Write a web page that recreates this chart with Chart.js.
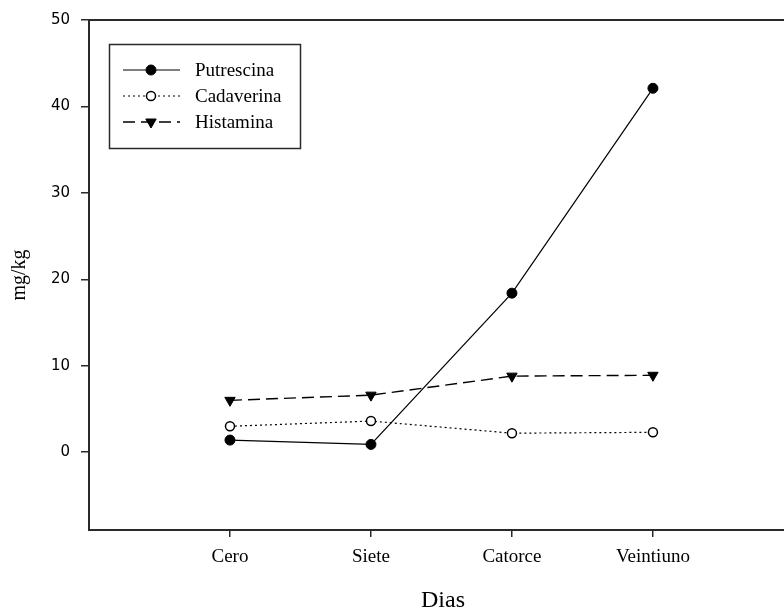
<!DOCTYPE html>
<html>
<head>
<meta charset="utf-8">
<script src="https://cdn.jsdelivr.net/npm/chart.js@4/dist/chart.umd.min.js"></script>
<style>
  html, body { margin: 0; padding: 0; background: #fff; }
  #wrap { width: 784px; height: 615px; }
</style>
</head>
<body>
<div id="wrap"><canvas id="c" width="784" height="615"></canvas></div>
<script>
// Sampling days and amine contents (mg/kg)
const categories = ['Cero', 'Siete', 'Catorce', 'Veintiuno'];
const putrescina = [1.4, 0.9, 18.4, 42.1];
const cadaverina = [3.0, 3.6, 2.2, 2.3];
const histamina  = [6.0, 6.6, 8.8, 8.9];
const yTicks = [0, 10, 20, 30, 40, 50];
const seriesNames = ['Putrescina', 'Cadaverina', 'Histamina'];

const toPoints = arr => arr.map((v, i) => ({ x: i, y: v }));

const INK = '#000';
const AXIS = '#2a2a2a';

const datasets = [
  {
    label: seriesNames[0],
    data: toPoints(putrescina),
    borderColor: INK, borderWidth: 1.2,
    pointStyle: 'circle', pointRadius: 5,
    pointBackgroundColor: INK, pointBorderColor: INK, pointBorderWidth: 1
  },
  {
    label: seriesNames[1],
    data: toPoints(cadaverina),
    borderColor: INK, borderWidth: 1.2, borderDash: [2, 3],
    pointStyle: 'circle', pointRadius: 4.5,
    pointBackgroundColor: '#fff', pointBorderColor: INK, pointBorderWidth: 1.5
  },
  {
    label: seriesNames[2],
    data: toPoints(histamina),
    borderColor: INK, borderWidth: 1.4, borderDash: [12, 6],
    pointStyle: 'triangle', pointRotation: 180, pointRadius: 6,
    pointBackgroundColor: INK, pointBorderColor: INK, pointBorderWidth: 1
  }
];

// Frame top edge, axis titles and the boxed key
const decorations = {
  id: 'decorations',
  afterDraw(chart) {
    const { ctx, chartArea: a } = chart;
    ctx.save();
    ctx.strokeStyle = AXIS;
    ctx.lineWidth = 2;
    ctx.beginPath();
    ctx.moveTo(a.left - 1, a.top);
    ctx.lineTo(chart.width, a.top);
    ctx.moveTo(a.left - 1, a.bottom);
    ctx.lineTo(chart.width, a.bottom);
    ctx.stroke();

    ctx.fillStyle = INK;
    ctx.font = '24px "Liberation Serif", serif';
    ctx.textAlign = 'center';
    ctx.textBaseline = 'middle';
    ctx.fillText('Dias', 443, 601);

    ctx.save();
    ctx.translate(20, 275);
    ctx.rotate(-Math.PI / 2);
    ctx.font = '20px "Liberation Serif", serif';
    ctx.fillText('mg/kg', 0, 0);
    ctx.restore();

    // key box
    ctx.lineWidth = 1.5;
    ctx.strokeStyle = AXIS;
    ctx.strokeRect(109.5, 44.5, 191, 104);
    const rows = [70, 96, 122];
    chart.data.datasets.forEach((ds, i) => {
      const y = rows[i];
      ctx.save();
      ctx.strokeStyle = ds.borderColor;
      ctx.lineWidth = ds.borderWidth;
      ctx.setLineDash(ds.borderDash || []);
      ctx.beginPath();
      ctx.moveTo(123, y);
      ctx.lineTo(180, y);
      ctx.stroke();
      ctx.setLineDash([]);
      ctx.fillStyle = ds.pointBackgroundColor;
      ctx.strokeStyle = ds.pointBorderColor;
      ctx.lineWidth = ds.pointBorderWidth;
      Chart.helpers.drawPoint(ctx, {
        pointStyle: ds.pointStyle,
        rotation: ds.pointRotation || 0,
        radius: ds.pointRadius,
        borderWidth: ds.pointBorderWidth
      }, 151, y);
      ctx.restore();
      ctx.fillStyle = INK;
      ctx.font = '19px "Liberation Serif", serif';
      ctx.textAlign = 'left';
      ctx.textBaseline = 'middle';
      ctx.fillText(ds.label, 195, y + 1);
    });
    ctx.restore();
  }
};

new Chart(document.getElementById('c'), {
  type: 'line',
  data: { datasets },
  options: {
    responsive: false,
    animation: false,
    devicePixelRatio: 1,
    layout: { padding: { top: 19, right: 0, left: 0, bottom: 0 } },
    plugins: { legend: { display: false }, tooltip: { enabled: false } },
    elements: { line: { tension: 0 } },
    scales: {
      x: {
        type: 'linear',
        min: -1,
        max: 3.88,
        afterBuildTicks: s => { s.ticks = categories.map((_, i) => ({ value: i })); },
        afterFit: s => { s.height = 85; },
        ticks: {
          callback: v => categories[v] ?? '',
          color: INK,
          font: { family: '"Liberation Serif", serif', size: 19 },
          padding: 9,
          maxRotation: 0,
          autoSkip: false
        },
        grid: { drawOnChartArea: false, drawTicks: true, tickLength: 7, color: AXIS, lineWidth: 1.5 },
        border: { display: true, color: AXIS, width: 2 }
      },
      y: {
        type: 'linear',
        min: -9,
        max: 50,
        afterBuildTicks: s => { s.ticks = yTicks.map(v => ({ value: v })); },
        afterFit: s => { s.width = 89; },
        ticks: {
          color: INK,
          font: { family: '"DejaVu Sans", sans-serif', size: 15 },
          padding: 11
        },
        grid: { drawOnChartArea: false, drawTicks: true, tickLength: 8, color: AXIS, lineWidth: 1.5 },
        border: { display: true, color: AXIS, width: 2 }
      }
    }
  },
  plugins: [decorations]
});
</script>
</body>
</html>
